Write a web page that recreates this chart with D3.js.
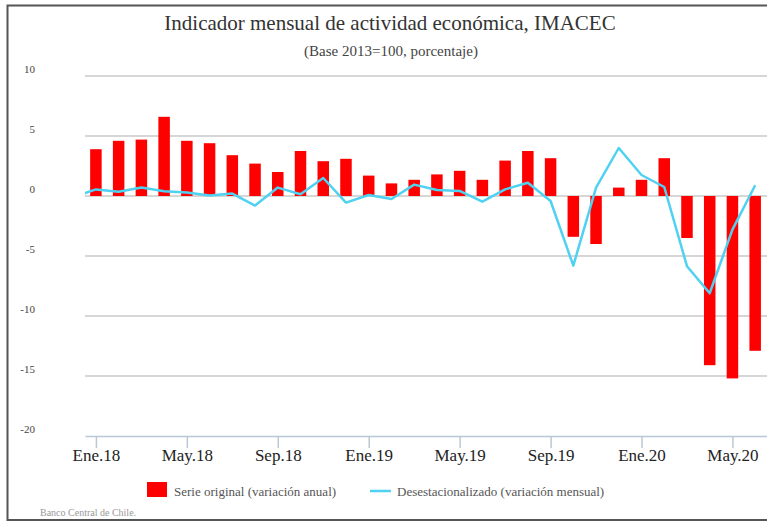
<!DOCTYPE html>
<html>
<head>
<meta charset="utf-8">
<script src="https://cdnjs.cloudflare.com/ajax/libs/d3/7.8.5/d3.min.js"></script>
<style>
  body { margin: 0; background: #fff; }
  text { font-family: "Liberation Serif", "DejaVu Serif", serif; }
</style>
</head>
<body>
<div class="chart"></div>
<script>
// months Ene.18 .. Jun.20
var months = ['Ene.18','Feb.18','Mar.18','Abr.18','May.18','Jun.18','Jul.18','Ago.18','Sep.18','Oct.18','Nov.18','Dic.18',
  'Ene.19','Feb.19','Mar.19','Abr.19','May.19','Jun.19','Jul.19','Ago.19','Sep.19','Oct.19','Nov.19','Dic.19',
  'Ene.20','Feb.20','Mar.20','Abr.20','May.20','Jun.20'];
var serieOriginal = [3.9, 4.6, 4.7, 6.6, 4.6, 4.4, 3.4, 2.7, 2.0, 3.75, 2.9, 3.1,
  1.7, 1.05, 1.35, 1.8, 2.1, 1.35, 2.95, 3.75, 3.15, -3.4, -4.0, 0.7,
  1.35, 3.15, -3.5, -14.1, -15.2, -12.9];
// seasonally adjusted starts one month earlier (Dic.17), clipped at the plot edge
var desestMonths = ['Dic.17'].concat(months);
var desest = [-0.1, 0.55, 0.35, 0.7, 0.4, 0.3, 0.05, 0.2, -0.8, 0.7, 0.15, 1.5, -0.55,
  0.08, -0.25, 0.95, 0.5, 0.42, -0.47, 0.55, 1.1, -0.42, -5.8, 0.7, 4.0,
  1.75, 0.75, -5.85, -8.1, -2.8, 0.9];
var yTicks = [10, 5, 0, -5, -10, -15, -20];
var xTickLabels = ['Ene.18','May.18','Sep.18','Ene.19','May.19','Sep.19','Ene.20','May.20'];

var W = 767, H = 521;
var margin = {top: 76, right: 0, bottom: 85, left: 85};
var width = W - margin.left - margin.right;
var height = H - margin.top - margin.bottom;

var svg = d3.select('.chart')
  .append('svg')
	.attr('width', W)
	.attr('height', H);

// frame
svg.append('path')
	.attr('d', `M${W},5.5 H7.5 V520 H${W}`)
	.attr('fill', 'none')
	.attr('stroke', '#555')
	.attr('stroke-width', 2);

svg.append('text')
	.attr('x', 390).attr('y', 30)
	.attr('text-anchor', 'middle')
	.attr('font-size', 21)
	.attr('fill', '#333')
	.text('Indicador mensual de actividad económica, IMACEC');

svg.append('text')
	.attr('x', 391).attr('y', 56)
	.attr('text-anchor', 'middle')
	.attr('font-size', 15)
	.attr('fill', '#444')
	.text('(Base 2013=100, porcentaje)');

var g = svg.append('g')
	.attr('transform', `translate(${margin.left}, ${margin.top})`);

var xScale = d3.scaleLinear()
	.domain([-0.48, months.length - 0.48])
	.range([0, width]);

var yScale = d3.scaleLinear()
	.domain([10, -20])
	.range([0, height]);

g.append('clipPath').attr('id', 'plot')
  .append('rect')
	.attr('width', width).attr('height', height);

// gridlines + y labels
var grid = g.append('g')
	.selectAll('g')
	.data(yTicks)
	.enter()
	.append('g')
	.attr('transform', d => `translate(0, ${yScale(d)})`);

grid.filter(d => d != -20)
  .append('line')
	.attr('x2', width)
	.attr('stroke', '#c9c9c9')
	.attr('stroke-width', 1.5);

grid.append('text')
	.attr('x', -50)
	.attr('y', -3)
	.attr('text-anchor', 'end')
	.attr('font-size', 11)
	.attr('fill', '#444')
	.text(d => d);

// bars
g.selectAll('rect.bar')
	.data(serieOriginal)
	.enter()
	.append('rect')
	.attr('class', 'bar')
	.attr('x', (d, i) => xScale(i) - 5.75)
	.attr('width', 11.5)
	.attr('y', d => yScale(Math.max(0, d)))
	.attr('height', d => Math.abs(yScale(d) - yScale(0)))
	.attr('fill', '#ff0000');

// x axis
var xAxis = g.append('g')
	.attr('transform', `translate(0, ${height})`)
	.call(d3.axisBottom(xScale)
		.tickValues(xTickLabels.map(m => months.indexOf(m)))
		.tickFormat(i => months[i])
		.tickSize(12)
		.tickSizeOuter(0)
		.tickPadding(1));

xAxis.select('.domain').attr('stroke', '#b9c8d6').attr('stroke-width', 1.5);
xAxis.selectAll('.tick line').attr('stroke', '#b9c8d6').attr('stroke-width', 1.5);
xAxis.selectAll('.tick text')
	.attr('font-family', '"Liberation Serif", serif')
	.attr('font-size', 17)
	.attr('fill', '#222');

// seasonally adjusted line
var line = d3.line()
	.x((d, i) => xScale(i - 1))
	.y(d => yScale(d));

g.append('path')
	.datum(desest)
	.attr('clip-path', 'url(#plot)')
	.attr('d', line)
	.attr('fill', 'none')
	.attr('stroke', '#4fd2f2')
	.attr('stroke-width', 2.5)
	.attr('stroke-linejoin', 'round');

// legend
var legend = svg.append('g');
legend.append('rect')
	.attr('x', 147).attr('y', 482)
	.attr('width', 20).attr('height', 15)
	.attr('fill', '#ff0000');
legend.append('text')
	.attr('x', 174).attr('y', 496)
	.attr('font-size', 13)
	.attr('fill', '#555')
	.text('Serie original (variación anual)');
legend.append('line')
	.attr('x1', 370).attr('x2', 391)
	.attr('y1', 491).attr('y2', 491)
	.attr('stroke', '#4fd2f2')
	.attr('stroke-width', 2.5);
legend.append('text')
	.attr('x', 397).attr('y', 496)
	.attr('font-size', 13)
	.attr('fill', '#555')
	.text('Desestacionalizado (variación mensual)');

svg.append('text')
	.attr('x', 40).attr('y', 516)
	.attr('font-size', 10)
	.attr('fill', '#999')
	.text('Banco Central de Chile.');
</script>
</body>
</html>
